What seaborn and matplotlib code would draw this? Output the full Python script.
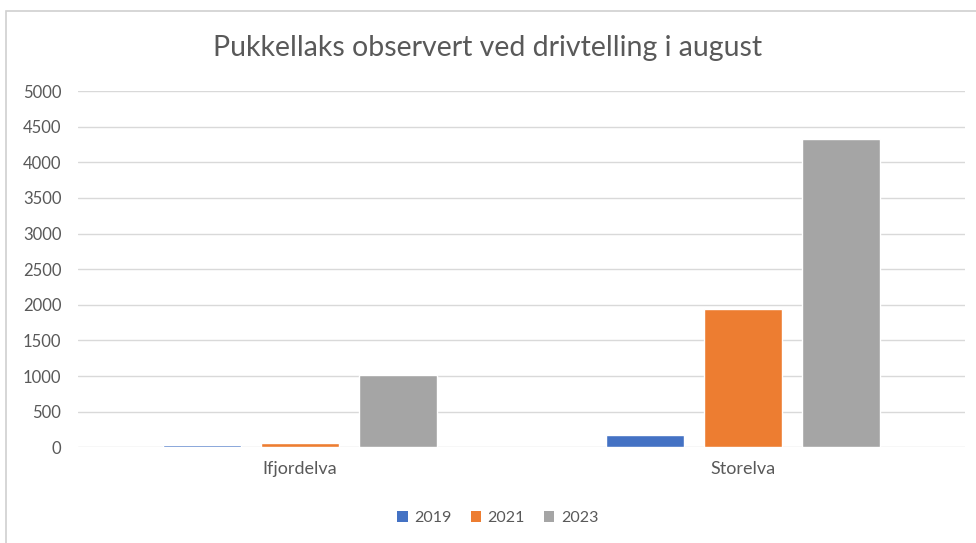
import matplotlib
matplotlib.use("Agg")
import matplotlib.pyplot as plt
import seaborn as sns
import pandas as pd
from matplotlib.patches import Rectangle, Patch

# data
rivers = ['Ifjordelva', 'Storelva']
years = ['2019', '2021', '2023']
v2019 = [30, 170]
v2021 = [60, 1940]
v2023 = [1010, 4320]
colors = ['#4472C4', '#ED7D31', '#A5A5A5']

rows = []
for yr, vals in zip(years, [v2019, v2021, v2023]):
    for r, v in zip(rivers, vals):
        rows.append({'elv': r, 'aar': yr, 'antall': v})
df = pd.DataFrame(rows)

sns.set_theme(style='white')
plt.rcParams['font.family'] = ['Lato', 'DejaVu Sans']

fig = plt.figure(figsize=(9.76, 5.43), dpi=100)
ax = fig.add_axes([0.0799, 0.1762, 0.9088, 0.6562])

sns.barplot(data=df, x='elv', y='antall', hue='aar', hue_order=years,
            palette=colors, width=0.663, gap=0.2, saturation=1,
            legend=False, ax=ax, zorder=3)

ax.set_ylim(0, 5000)
ax.set_yticks(range(0, 5001, 500))
ax.set_xlim(-0.5, 1.5)
ax.grid(axis='y', color='#d9d9d9', linewidth=1, zorder=0)
ax.set_axisbelow(True)
for s in ax.spines.values():
    s.set_visible(False)
ax.tick_params(axis='y', length=0, labelsize=12, labelcolor='#595959', pad=12)
ax.tick_params(axis='x', length=0, labelsize=13, labelcolor='#595959', pad=10)
ax.set_xlabel('')
ax.set_ylabel('')

fig.text(0.5, 0.912, 'Pukkellaks observert ved drivtelling i august',
         ha='center', va='center', fontsize=20.5, color='#595959')

handles = [Patch(facecolor=c, edgecolor='none') for c in colors]
fig.legend(handles, years, loc='center', bbox_to_anchor=(0.51, 0.046),
           ncol=3, frameon=False, fontsize=11.5, handlelength=0.65,
           handleheight=0.65, handletextpad=0.4, columnspacing=1.2,
           labelcolor='#595959')

fig.patches.append(Rectangle((6 / 976, -0.1), 1.2, 1.1 - 11 / 543,
                             transform=fig.transFigure, fill=False,
                             edgecolor='#d0d0d0', linewidth=1.2))

fig.savefig('out.png', dpi=100)
